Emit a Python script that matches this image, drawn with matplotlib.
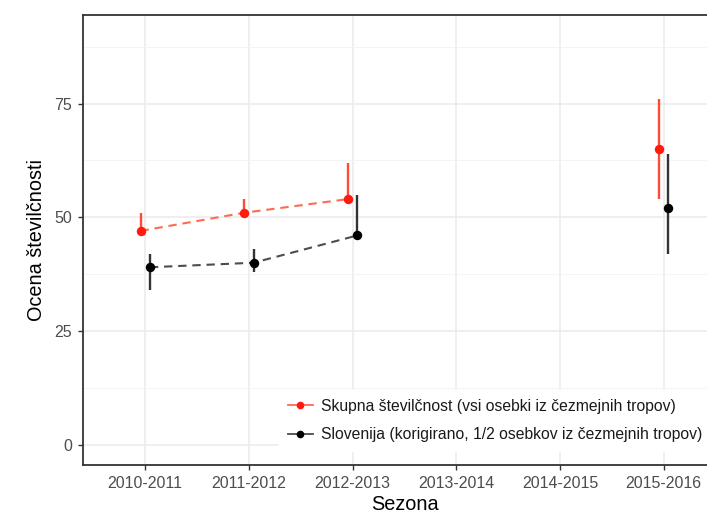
import numpy as np
import matplotlib
matplotlib.use("Agg")
import matplotlib.pyplot as plt
from matplotlib.lines import Line2D

plt.rcParams['font.family'] = ['Liberation Sans', 'DejaVu Sans']

seasons = ["2010-2011", "2011-2012", "2012-2013", "2013-2014", "2014-2015", "2015-2016"]
total_val = [47, 51, 54, np.nan, np.nan, 65]
total_low = [47, 50, 54, np.nan, np.nan, 54]
total_high = [51, 54, 62, np.nan, np.nan, 76]
slo_val = [39, 40, 46, np.nan, np.nan, 52]
slo_low = [34, 38, 46, np.nan, np.nan, 42]
slo_high = [42, 43, 55, np.nan, np.nan, 64]
labels = ["Skupna številčnost (vsi osebki iz čezmejnih tropov)",
          "Slovenija (korigirano, 1/2 osebkov iz čezmejnih tropov)"]
yticks = [0, 25, 50, 75]

W, H = 707, 514
fig = plt.figure(figsize=(W/100, H/100), dpi=100)
ax = fig.add_axes([83/W, 1-465/H, 643/W, 450/H])

x = np.arange(1, len(seasons)+1)
dodge = 0.045
series = [
    (x - dodge, total_val, total_low, total_high, '#ff1a0d', '#ff6a50', '#ff4a35', labels[0]),
    (x + dodge, slo_val, slo_low, slo_high, '#000000', '#4d4d4d', '#333333', labels[1]),
]
handles = []
for xs, v, lo, hi, pc, lc, ec, lab in series:
    v = np.array(v, float); lo = np.array(lo, float); hi = np.array(hi, float)
    ax.plot(xs, v, color=lc, lw=1.5, dashes=(4, 2.8), zorder=3)
    ax.vlines(xs, lo, hi, color=ec, lw=1.7, zorder=3)
    ax.plot(xs, v, 'o', color=pc, ms=6.8, zorder=4, mec='none')
    handles.append(Line2D([0], [0], color=lc, lw=1.3, marker='o', ms=5.5, mfc=pc, mec='none'))

ax.set_xlim(0.4, 6.6)
ax.set_ylim(-4.5, 94.5)
ax.set_xticks(x)
ax.set_xticklabels(seasons)
ax.set_yticks(yticks)
ax.set_yticks([12.5, 37.5, 62.5, 87.5], minor=True)
ax.grid(True, which='major', color='#ebebeb', lw=1.1, zorder=0)
ax.grid(True, which='minor', axis='y', color='#f2f2f2', lw=0.6, zorder=0)
ax.set_axisbelow(True)
for s in ax.spines.values():
    s.set_color('#333333'); s.set_linewidth(1.3)
ax.tick_params(axis='both', which='major', length=3.5, width=1.0, color='#333333',
               labelsize=11.5, labelcolor='#4d4d4d', pad=4.5)
ax.tick_params(axis='y', which='minor', length=0)
ax.set_xlabel("Sezona", fontsize=14.3, labelpad=2.5)
ax.set_ylabel("Ocena številčnosti", fontsize=14.3, labelpad=6)

leg = ax.legend(handles, labels, loc='lower left', bbox_to_anchor=(279/W, 1-451/H),
                bbox_transform=fig.transFigure, frameon=True, fontsize=11.3,
                handlelength=1.6, handletextpad=0.55, labelspacing=0.88,
                borderpad=0.55, borderaxespad=0, fancybox=False)
leg.get_frame().set_facecolor('white')
leg.get_frame().set_edgecolor('white')
leg.get_frame().set_alpha(1)
for t in leg.get_texts():
    t.set_color('#1a1a1a')

fig.savefig("out.png", dpi=100)
